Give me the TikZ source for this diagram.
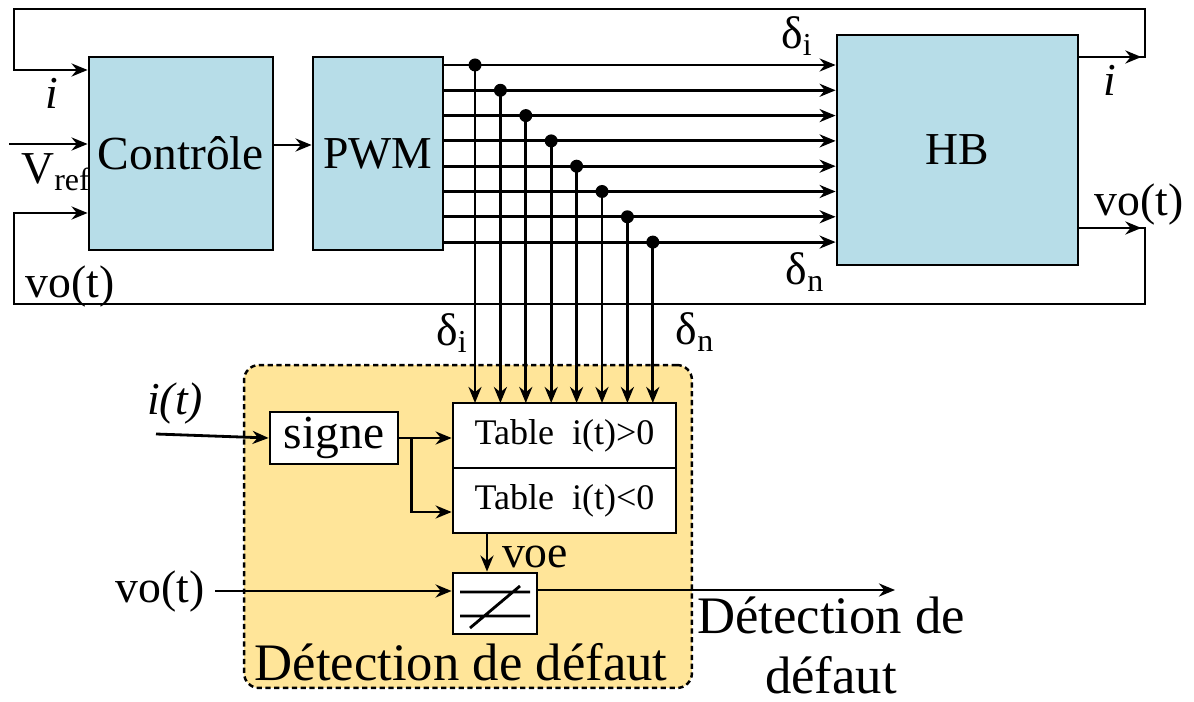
\documentclass[tikz,border=0pt]{standalone}
\usepackage{fontspec}
\setmainfont{Liberation Serif}
\usetikzlibrary{arrows.meta,positioning,calc}
\definecolor{blockbg}{HTML}{B7DDE8}
\definecolor{zonebg}{HTML}{FFE599}

\begin{document}
\begin{tikzpicture}[x=0.02cm, y=-0.02cm,
  wire/.style={line width=1.6pt},
  arr/.style={wire, -{Stealth[length=3.2mm,width=2.6mm]}},
  block/.style={draw, line width=1.6pt, fill=blockbg, inner sep=0pt},
  wbox/.style={draw, line width=1.6pt, fill=white, inner sep=0pt},
  zone/.style={draw, line width=1.4pt, dash pattern=on 3pt off 2pt, rounded corners=0.3cm, fill=zonebg},
  lbl/.style={font=\fontsize{26}{34}\selectfont, inner sep=0pt},
  big/.style={font=\fontsize{30}{36}\selectfont, inner sep=0pt, anchor=base},
  small/.style={font=\fontsize{20.5}{24}\selectfont, inner sep=0pt}]
  \useasboundingbox (0,0) rectangle (1194,702);

  % Main blocks
  \node[block, minimum width=3.68cm, minimum height=3.86cm, lbl, font=\fontsize{27}{30}\selectfont] (ctrl) at (181,153.5) {Contrôle};
  \node[block, minimum width=2.6cm, minimum height=3.86cm, lbl] (pwm) at (378,153.5) {PWM};
  \node[block, minimum width=4.82cm, minimum height=4.6cm, lbl] (hb) at (957.5,150) {HB};

  % Inputs of the control block
  \draw[arr] (9,144) -- (ctrl.west |- 0,144);
  \node[lbl] (vref) at (56,172) {V\textsubscript{ref}};
  \node[lbl] (ilft) at (52,93) {\textit{i}};
  \node[lbl] (volft) at (70,287) {vo(t)};
  \draw[arr] (ctrl.east |- 0,145) -- (pwm.west |- 0,145);

  % Feedback of i
  \coordinate (ri) at (1145,57);
  \draw[arr] (hb.east |- ri) -- (ri) -- (1145,9) -- (14,9) |- (ctrl.west |- 0,70);
  \draw[arr] (hb.east |- ri) -- ++(62,0);
  \node[lbl] (irgt) at (1110,80) {\textit{i}};

  % Feedback of vo(t)
  \coordinate (rv) at (1145,228);
  \draw[arr] (hb.east |- rv) -- (rv) -- (1145,304) -- (14,304) |- (ctrl.west |- 0,213);
  \draw[arr] (hb.east |- rv) -- ++(62,0);
  \node[lbl] (vorgt) at (1139,205) {vo(t)};

  % Fault detection zone
  \node[zone, minimum width=8.96cm, minimum height=6.46cm] (det) at (468,526.5) {};
  \node[big] (detlbl) at (461,680) {Détection de défaut};
  \node[wbox, minimum width=2.56cm, minimum height=1.04cm, lbl, font=\fontsize{27}{30}\selectfont] (signe) at (334,438) {signe};
  \node[wbox, minimum width=4.46cm, minimum height=1.3cm, small] (tpos) at (564.5,435.5) {Table\ \ i(t)>0};
  \node[wbox, minimum width=4.46cm, minimum height=1.3cm, small] (tneg) at (564.5,500.5) {Table\ \ i(t)<0};
  \node[wbox, minimum width=1.68cm, minimum height=1.22cm] (cmp) at (495,603.5) {};
  \draw[wire] (460,592) -- (530,592) (460,616) -- (530,616) (470,628) -- (520,586);

  % PWM signals to HB and to the tables
  \foreach \k in {1,...,8}{
    \pgfmathsetmacro\yy{65+25.3*(\k-1)}
    \pgfmathsetmacro\xx{475+25.4*(\k-1)}
    \draw[arr] (pwm.east |- 0,\yy) -- (hb.west |- 0,\yy);
    \fill (\xx,\yy) circle (0.13cm);
    \draw[arr] (\xx,\yy) -- (\xx,403);
  }
  \node[lbl] (ditop) at (797,36) {δ\textsubscript{i}};
  \node[lbl] (dntop) at (805,272) {δ\textsubscript{n}};
  \node[lbl] (dibot) at (452,333) {δ\textsubscript{i}};
  \node[lbl] (dnbot) at (695,332) {δ\textsubscript{n}};

  % Sign and tables
  \node[lbl] (itin) at (175,404) {\textit{i(t)}};
  \draw[arr] (156,434) -- (signe.west);
  \draw[arr] (signe.east) -- (tpos.west |- signe.east);
  \draw[arr] ($(signe.east)+(12,0)$) |- (tneg.west |- 0,512);
  \draw[arr] (487,533) -- (cmp.north -| 487,0);
  \node[lbl] (voe) at (535,557) {voe};

  % Comparator
  \node[lbl] (voin) at (160,592) {vo(t)};
  \draw[arr] (215,591) -- (cmp.west |- 0,591);
  \draw[arr] (cmp.east |- 0,590) -- (895,590);
  \node[big] (outa) at (831,633) {Détection de};
  \node[big] (outb) at (831,693) {défaut};
\end{tikzpicture}
\end{document}
